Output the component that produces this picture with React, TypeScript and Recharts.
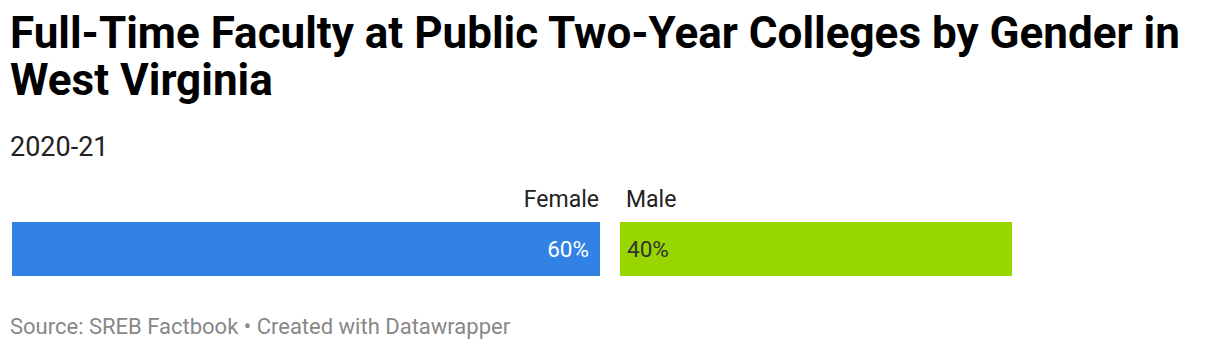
import { Bar, BarChart, LabelList, XAxis, YAxis } from "recharts";

const categories = ["2020-21"];
const femaleShare = [60];
const maleShare = [40];
const seriesNames = ["Female", "Male"];

const BLUE = "#3182e4";
const GREEN = "#98d600";
const GAP = 20;
const FONT = "Roboto, 'Noto Sans', sans-serif";

const rows = categories.map((c, i) => ({
  name: c,
  [seriesNames[0]]: femaleShare[i],
  [seriesNames[1]]: maleShare[i],
}));

function FemaleLabel(props: any) {
  const { x, y, width, height, value } = props;
  const right = x + width;
  return (
    <g style={{ fontFamily: FONT }}>
      <text x={right - 1} y={y - 15.5} textAnchor="end" fontSize={23} fill="#222">
        {seriesNames[0]}
      </text>
      <text x={right - 11} y={y + height / 2 + 7.5} textAnchor="end" fontSize={22.5} fill="#fff">
        {value}%
      </text>
    </g>
  );
}

function MaleLabel(props: any) {
  const { x, y, height, value } = props;
  const left = x + GAP;
  return (
    <g style={{ fontFamily: FONT }}>
      <text x={left + 6} y={y - 15.5} textAnchor="start" fontSize={23} fill="#222">
        {seriesNames[1]}
      </text>
      <text x={left + 7} y={y + height / 2 + 7.5} textAnchor="start" fontSize={22.5} fill="#333">
        {value}%
      </text>
    </g>
  );
}

function ShiftedBar(props: any) {
  const { x, y, width, height, fill } = props;
  return <rect x={x + GAP} y={y} width={width} height={height} fill={fill} />;
}

export default function App() {
  return (
    <div
      style={{
        position: "absolute",
        left: 0,
        top: 0,
        width: 1220,
        height: 352,
        background: "#fff",
        fontFamily: FONT,
        color: "#000",
      }}
    >
      <div
        style={{
          position: "absolute",
          left: 10,
          top: 10,
          width: 1200,
          fontSize: 44,
          lineHeight: "47px",
          fontWeight: 700,
        }}
      >
        Full-Time Faculty at Public Two-Year Colleges by Gender in West Virginia
      </div>
      <div style={{ position: "absolute", left: 10, top: 131, fontSize: 27, color: "#222" }}>
        2020-21
      </div>
      <div style={{ position: "absolute", top: 180, left: 0 }}>
        <BarChart
          layout="vertical"
          width={1220}
          height={110}
          data={rows}
          margin={{ top: 42, right: 228, bottom: 14, left: 12 }}
          barCategoryGap={0}
        >
          <XAxis type="number" domain={[0, 100]} hide />
          <YAxis type="category" dataKey="name" hide />
          <Bar dataKey={seriesNames[0]} stackId="a" fill={BLUE} isAnimationActive={false}>
            <LabelList dataKey={seriesNames[0]} content={FemaleLabel} />
          </Bar>
          <Bar
            dataKey={seriesNames[1]}
            stackId="a"
            fill={GREEN}
            shape={ShiftedBar}
            isAnimationActive={false}
          >
            <LabelList dataKey={seriesNames[1]} content={MaleLabel} />
          </Bar>
        </BarChart>
      </div>
      <div style={{ position: "absolute", left: 10, top: 314, fontSize: 22, color: "#888" }}>
        Source: SREB Factbook • Created with Datawrapper
      </div>
    </div>
  );
}
